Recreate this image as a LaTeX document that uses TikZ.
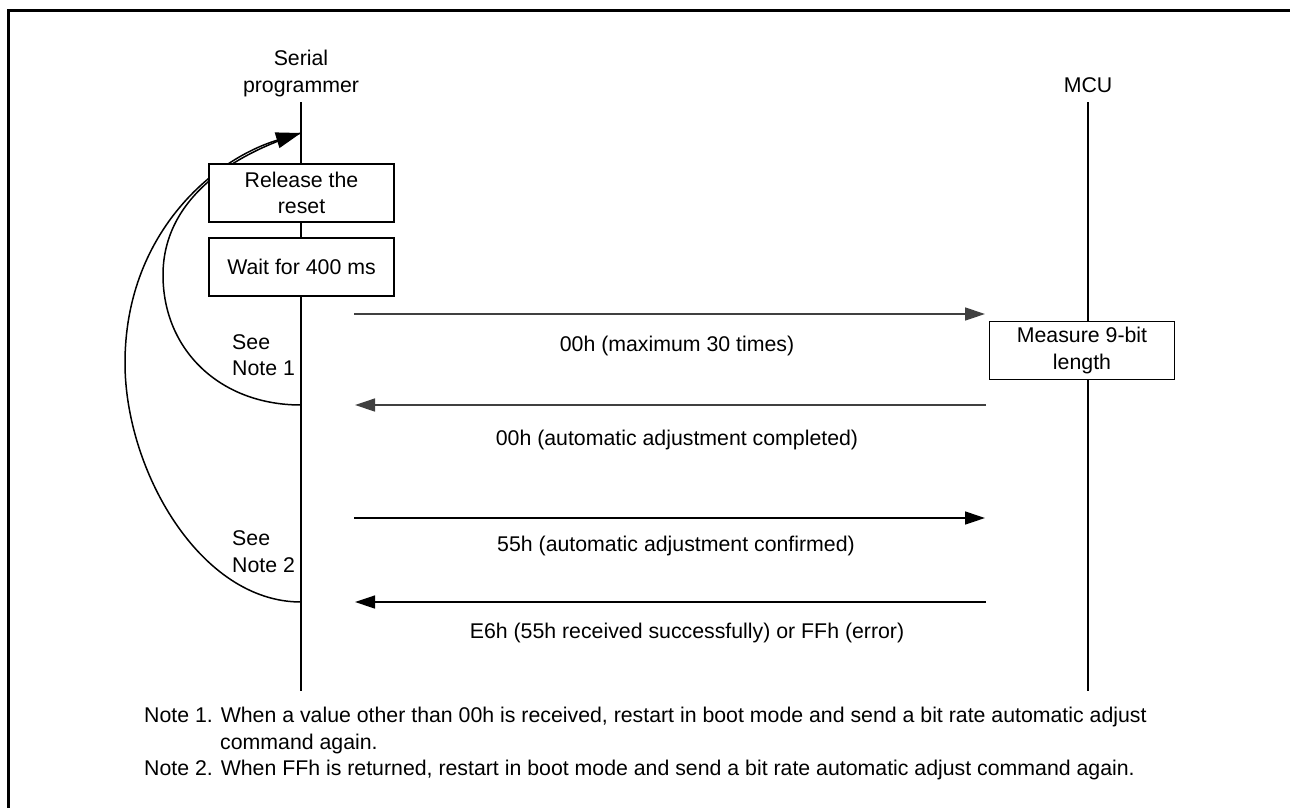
\documentclass[tikz,border=0pt]{standalone}
\usepackage{fontspec}
\setmainfont{Liberation Sans}
\usetikzlibrary{arrows.meta}
\begin{document}
\begin{tikzpicture}[x=1pt,y=-1pt,
  every node/.style={inner sep=0pt, font=\fontsize{21.3}{26.5}\selectfont},
  lifeline/.style={line width=1.8pt},
  box/.style={draw, line width=1.8pt, fill=white, minimum width=185pt, minimum height=58pt, align=center},
  msg/.style={line width=1.3pt, -{Triangle[length=20pt,width=13pt]}},
  loopline/.style={line width=1.5pt}]
\useasboundingbox (0,0) rectangle (1290,808);
\draw[line width=3pt] (8,808) -- (8,11) -- (1290,11);

% lifeline heads
\node[align=center] (sp) at (301,73.5) {Serial\\programmer};
\node[anchor=base] (mcu) at (1088,92.5) {MCU};

\coordinate (sp-top) at (301,102);
\coordinate (sp-bot) at (301,691);
\coordinate (mcu-top) at (1088,102);
\coordinate (mcu-bot) at (1088,691);
\draw[lifeline] (sp-top) -- (sp-bot);
\draw[lifeline] (mcu-top) -- (mcu-bot);

% loop-back curves
\coordinate (T) at (301,133);
\coordinate (L1) at (301,405);
\coordinate (L2) at (301,602);
\draw[loopline] (L1) .. controls (220,405) and (163,350) .. (163,275) .. controls (163,205) and (222,158) .. (T);
\draw[loopline, -{Triangle[length=25pt,width=16pt]}] (L2) .. controls (200,602) and (125,470) .. (125,363) .. controls (125,235) and (212,160) .. (T);

% boxes
\node[box] (rel) at (301.5,193) {Release the\\reset};
\node[box] (wait) at (301.5,267) {Wait for 400 ms};
\node[box] (meas) at (1082,350.5) {Measure 9-bit\\length};

% notes beside curves
\node[anchor=west, align=left] (see1) at (232,355) {See\\Note 1};
\node[anchor=west, align=left] (see2) at (232,551.5) {See\\Note 2};

% messages
\coordinate (m1a) at (354,314);  \coordinate (m1b) at (985,314);
\coordinate (m2a) at (986,405);  \coordinate (m2b) at (355,405);
\coordinate (m3a) at (354,518);  \coordinate (m3b) at (985,518);
\coordinate (m4a) at (986,602);  \coordinate (m4b) at (355,602);
\draw[msg, draw=black!75] (m1a) -- (m1b);
\draw[msg, draw=black!75] (m2a) -- (m2b);
\draw[msg] (m3a) -- (m3b);
\draw[msg] (m4a) -- (m4b);

\node[anchor=base] (t1) at (677,351) {00h (maximum 30 times)};
\node[anchor=base] (t2) at (677,445) {00h (automatic adjustment completed)};
\node[anchor=base] (t3) at (676,551) {55h (automatic adjustment confirmed)};
\node[anchor=base] (t4) at (687,638) {E6h (55h received successfully) or FFh (error)};

% footnotes
\node[anchor=base west] (n1) at (144,722) {Note 1. When a value other than 00h is received, restart in boot mode and send a bit rate automatic adjust};
\node[anchor=base west] (n1b) at (220,749) {command again.};
\node[anchor=base west] (n2) at (144,775) {Note 2. When FFh is returned, restart in boot mode and send a bit rate automatic adjust command again.};
\end{tikzpicture}
\end{document}
